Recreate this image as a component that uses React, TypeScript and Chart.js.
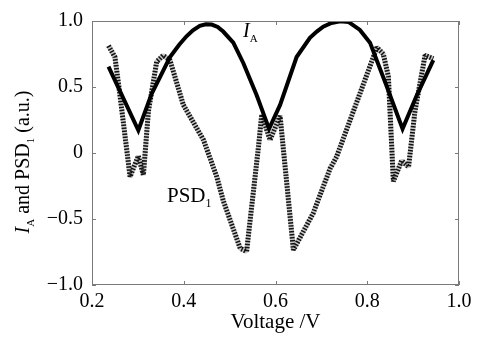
import React, { useEffect, useRef } from "react";
import { Chart, registerables } from "chart.js";

Chart.register(...registerables);

// I_A curve (solid)
const iaVoltage = [0.236, 0.301, 0.330, 0.370, 0.390, 0.406, 0.420, 0.435, 0.448, 0.461, 0.474, 0.486, 0.508, 0.530, 0.559, 0.586, 0.610, 0.646, 0.675, 0.690, 0.704, 0.722, 0.741, 0.759, 0.784, 0.806, 0.842, 0.877, 0.908, 0.944];
const iaValues = [0.654, 0.172, 0.449, 0.727, 0.820, 0.884, 0.930, 0.964, 0.975, 0.973, 0.955, 0.920, 0.836, 0.680, 0.437, 0.183, 0.364, 0.727, 0.872, 0.920, 0.957, 0.985, 0.998, 0.993, 0.932, 0.836, 0.510, 0.183, 0.437, 0.703];

// PSD_1 curve (dotted)
const psdVoltage = [0.236, 0.250, 0.261, 0.283, 0.301, 0.312, 0.323, 0.341, 0.355, 0.370, 0.399, 0.443, 0.472, 0.486, 0.523, 0.537, 0.563, 0.570, 0.588, 0.610, 0.639, 0.682, 0.719, 0.733, 0.784, 0.821, 0.835, 0.846, 0.857, 0.875, 0.890, 0.904, 0.926, 0.944];
const psdValues = [0.812, 0.727, 0.437, -0.179, -0.022, -0.167, 0.317, 0.691, 0.739, 0.703, 0.365, 0.099, -0.180, -0.360, -0.722, -0.746, 0.051, 0.292, 0.099, 0.280, -0.734, -0.457, -0.118, -0.030, 0.450, 0.800, 0.750, 0.580, -0.215, -0.058, -0.106, 0.317, 0.739, 0.715];

const xTicks = [0.2, 0.4, 0.6, 0.8, 1.0];
const xTickLabels = ["0.2", "0.4", "0.6", "0.8", "1.0"];
const yTicks = [-1, -0.5, 0, 0.5, 1];
const yTickLabels = ["\u22121.0", "\u22120.5", "0", "0.5", "1.0"];

const FONT = "'Liberation Serif', 'Times New Roman', serif";
const FRAME = "#7a7a7a";

function drawSegments(ctx: CanvasRenderingContext2D, x: number, y: number, segs: { t: string; size: number; italic?: boolean; dy?: number }[]) {
  let cx = x;
  for (const s of segs) {
    ctx.font = `${s.italic ? "italic " : ""}${s.size}px ${FONT}`;
    ctx.fillText(s.t, cx, y + (s.dy || 0));
    cx += ctx.measureText(s.t).width;
  }
  return cx - x;
}
function segWidth(ctx: CanvasRenderingContext2D, segs: { t: string; size: number; italic?: boolean }[]) {
  let w = 0;
  for (const s of segs) {
    ctx.font = `${s.italic ? "italic " : ""}${s.size}px ${FONT}`;
    w += ctx.measureText(s.t).width;
  }
  return w;
}

const decor = {
  id: "decor",
  afterDatasetsDraw(chart: any) {
    const ctx: CanvasRenderingContext2D = chart.ctx;
    const { left, right, top, bottom } = chart.chartArea;
    const xs = chart.scales.x;
    const ys = chart.scales.y;
    ctx.save();
    ctx.strokeStyle = FRAME;
    ctx.lineWidth = 1;
    ctx.strokeRect(left + 0.5, top + 0.5, right - left - 1, bottom - top - 1);
    ctx.beginPath();
    const tl = 4;
    for (const v of xTicks) {
      const px = Math.round(xs.getPixelForValue(v)) + 0.5;
      ctx.moveTo(px, bottom);
      ctx.lineTo(px, bottom - tl);
      ctx.moveTo(px, top);
      ctx.lineTo(px, top + tl);
    }
    for (const v of yTicks) {
      const py = Math.round(ys.getPixelForValue(v)) + 0.5;
      ctx.moveTo(left, py);
      ctx.lineTo(left + tl, py);
      ctx.moveTo(right, py);
      ctx.lineTo(right - tl, py);
    }
    ctx.stroke();

    ctx.fillStyle = "#000";
    ctx.textBaseline = "alphabetic";
    ctx.textAlign = "left";
    // I_A label
    drawSegments(ctx, 243, 37, [
      { t: "I", size: 20, italic: true },
      { t: "A", size: 11, dy: 5 },
    ]);
    // PSD_1 label
    drawSegments(ctx, 167, 202, [
      { t: "PSD", size: 21 },
      { t: "1", size: 12, dy: 5 },
    ]);

    // y-axis title
    const segs = [
      { t: "I", size: 20, italic: true },
      { t: "A", size: 11, dy: 5 },
      { t: " and PSD", size: 20 },
      { t: "1", size: 11, dy: 5 },
      { t: " (a.u.)", size: 20 },
    ];
    const w = segWidth(ctx, segs);
    ctx.translate(29, 162);
    ctx.rotate(-Math.PI / 2);
    drawSegments(ctx, -w / 2, 0, segs);
    ctx.restore();
  },
};

export default function App() {
  const ref = useRef<HTMLCanvasElement>(null);
  useEffect(() => {
    document.body.style.margin = "0";
    const ctx = ref.current!.getContext("2d")!;
    const chart = new Chart(ctx, {
      type: "line",
      data: {
        datasets: [
          {
            label: "IA",
            data: iaVoltage.map((v, i) => ({ x: v, y: iaValues[i] })),
            borderColor: "#000",
            borderWidth: 4,
            pointRadius: 0,
            tension: 0,
            fill: false,
          },
          {
            label: "PSD1",
            data: psdVoltage.map((v, i) => ({ x: v, y: psdValues[i] })),
            borderColor: "#111",
            borderWidth: 5,
            borderDash: [1.5, 1.5],
            borderJoinStyle: "bevel",
            pointRadius: 0,
            tension: 0,
            fill: false,
          },
          {
            label: "PSD1bg",
            data: psdVoltage.map((v, i) => ({ x: v, y: psdValues[i] })),
            borderColor: "#c8c8c8",
            borderWidth: 5,
            borderJoinStyle: "bevel",
            pointRadius: 0,
            tension: 0,
            fill: false,
          },
        ],
      },
      options: {
        animation: false,
        responsive: false,
        layout: { padding: { top: 9, right: 29, left: 0, bottom: 0 } },
        plugins: { legend: { display: false }, tooltip: { enabled: false } },
        scales: {
          x: {
            type: "linear",
            min: 0.2,
            max: 1.0,
            afterBuildTicks: (s: any) => {
              s.ticks = xTicks.map((v) => ({ value: v }));
            },
            afterFit: (s: any) => {
              s.height = 53;
            },
            grid: { display: false, drawTicks: false },
            border: { display: false },
            ticks: {
              padding: 5,
              color: "#000",
              font: { family: FONT, size: 20 },
              maxRotation: 0,
              callback: (v: any) => {
                const i = xTicks.findIndex((t) => Math.abs(t - v) < 1e-6);
                return i >= 0 ? xTickLabels[i] : "";
              },
            },
            title: {
              display: true,
              text: "Voltage /V",
              color: "#000",
              font: { family: FONT, size: 21 },
              padding: { top: 0, bottom: 3 },
            },
          },
          y: {
            type: "linear",
            min: -1,
            max: 1,
            afterBuildTicks: (s: any) => {
              s.ticks = yTicks.map((v) => ({ value: v }));
            },
            afterFit: (s: any) => {
              s.width = 92;
            },
            grid: { display: false, drawTicks: false },
            border: { display: false },
            ticks: {
              padding: 9,
              color: "#000",
              font: { family: FONT, size: 20 },
              callback: (v: any) => {
                const i = yTicks.findIndex((t) => Math.abs(t - v) < 1e-6);
                return i >= 0 ? yTickLabels[i] : "";
              },
            },
          },
        },
      },
      plugins: [decor],
    });
    return () => chart.destroy();
  }, []);
  return (
    <div style={{ position: "absolute", left: 0, top: 0, width: 488, height: 338, background: "#fff" }}>
      <canvas ref={ref} width={488} height={338} />
    </div>
  );
}
